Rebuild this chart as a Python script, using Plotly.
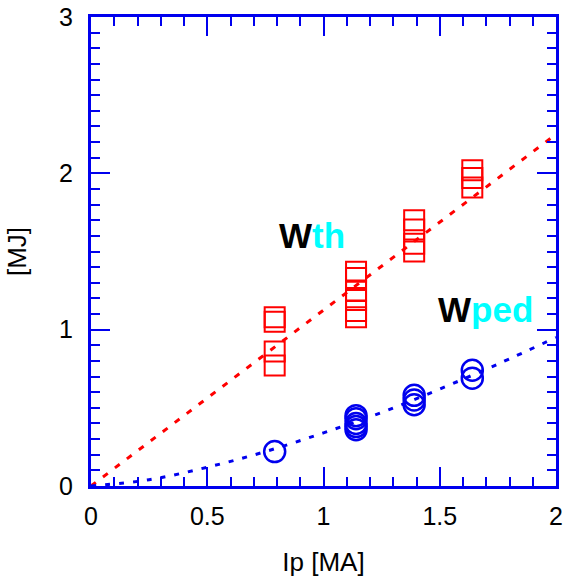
import plotly.graph_objects as go

# Data
wth_x = [0.79, 0.79, 0.79, 0.79,
         1.14, 1.14, 1.14, 1.14, 1.14, 1.14,
         1.39, 1.39, 1.39, 1.39,
         1.64, 1.64, 1.64]
wth_y = [1.08, 1.05, 0.86, 0.77,
         1.37, 1.33, 1.25, 1.19, 1.12, 1.08,
         1.70, 1.64, 1.55, 1.50,
         2.02, 1.97, 1.91]

wped_x = [0.79,
          1.14, 1.14, 1.14, 1.14, 1.14,
          1.39, 1.39, 1.39,
          1.64, 1.64]
wped_y = [0.22,
          0.45, 0.43, 0.40, 0.38, 0.36,
          0.58, 0.55, 0.52,
          0.74, 0.69]

fit_th_x = [0.0, 2.0]
fit_th_y = [0.0, 2.25]

fit_ped_x = [0.0, 0.25, 0.5, 0.75, 1.0, 1.25, 1.5, 1.75, 2.0]
fit_ped_y = [0.0, 0.04, 0.12, 0.22, 0.34, 0.47, 0.62, 0.78, 0.95]

x_ticks = [0, 0.5, 1, 1.5, 2]
x_ticklabels = ["0", "0.5", "1", "1.5", "2"]
y_ticks = [0, 1, 2, 3]
y_ticklabels = ["0", "1", "2", "3"]

RED = "#ff0000"
BLUE = "#0000ee"
CYAN = "#00ffff"
FONT = "Liberation Sans, Arial"

fig = go.Figure()
fig.add_trace(go.Scatter(x=fit_th_x, y=fit_th_y, mode="lines",
                         line=dict(color=RED, width=3, dash="6px,9px"),
                         hoverinfo="skip", showlegend=False))
fig.add_trace(go.Scatter(x=fit_ped_x, y=fit_ped_y, mode="lines",
                         line=dict(color=BLUE, width=3, dash="5px,9px", shape="spline"),
                         hoverinfo="skip", showlegend=False))
fig.add_trace(go.Scatter(x=wth_x, y=wth_y, mode="markers",
                         marker=dict(symbol="square-open", size=20, color=RED,
                                     line=dict(width=2, color=RED)),
                         showlegend=False))
fig.add_trace(go.Scatter(x=wped_x, y=wped_y, mode="markers",
                         marker=dict(symbol="circle-open", size=21, color=BLUE,
                                     line=dict(width=2.5, color=BLUE)),
                         showlegend=False))

fig.add_annotation(x=0.80, y=1.6, xref="x", yref="y", xanchor="left", yanchor="middle",
                   text="<b><span style='color:black'>W</span><span style='color:%s'>th</span></b>" % CYAN,
                   showarrow=False, font=dict(family=FONT, size=35, color="black"))
fig.add_annotation(x=1.485, y=1.13, xref="x", yref="y", xanchor="left", yanchor="middle",
                   text="<b><span style='color:black'>W</span><span style='color:%s'>ped</span></b>" % CYAN,
                   showarrow=False, font=dict(family=FONT, size=35, color="black"))

axis_common = dict(
    showline=True, linecolor=BLUE, linewidth=3, mirror="allticks",
    ticks="inside", tickcolor=BLUE, tickwidth=2, ticklen=19,
    showgrid=False, zeroline=False, automargin=False,
    tickfont=dict(family=FONT, size=25, color="black"),
)

fig.update_xaxes(range=[0, 2], tickvals=x_ticks, ticktext=x_ticklabels,
                 ticklabelstandoff=6,
                 minor=dict(dtick=0.1, ticks="inside", ticklen=9, tickcolor=BLUE, tickwidth=2),
                 title=dict(text="Ip [MA]", font=dict(family=FONT, size=26, color="black"), standoff=24),
                 **axis_common)
fig.update_yaxes(range=[0, 3], tickvals=y_ticks, ticktext=y_ticklabels,
                 ticklabelstandoff=10,
                 minor=dict(dtick=0.1, ticks="inside", ticklen=9, tickcolor=BLUE, tickwidth=2),
                 title=dict(text="[MJ]", font=dict(family=FONT, size=26, color="black"), standoff=25),
                 **axis_common)

fig.update_layout(width=568, height=583,
                  margin=dict(l=91, r=12, t=17, b=97),
                  plot_bgcolor="white", paper_bgcolor="white")

# remove the default page margin so the figure sits at the window's top-left corner
fig.write_html("out.html",
               config={"displayModeBar": False},
               post_script="document.body.style.margin='0';document.body.style.overflow='hidden';")
